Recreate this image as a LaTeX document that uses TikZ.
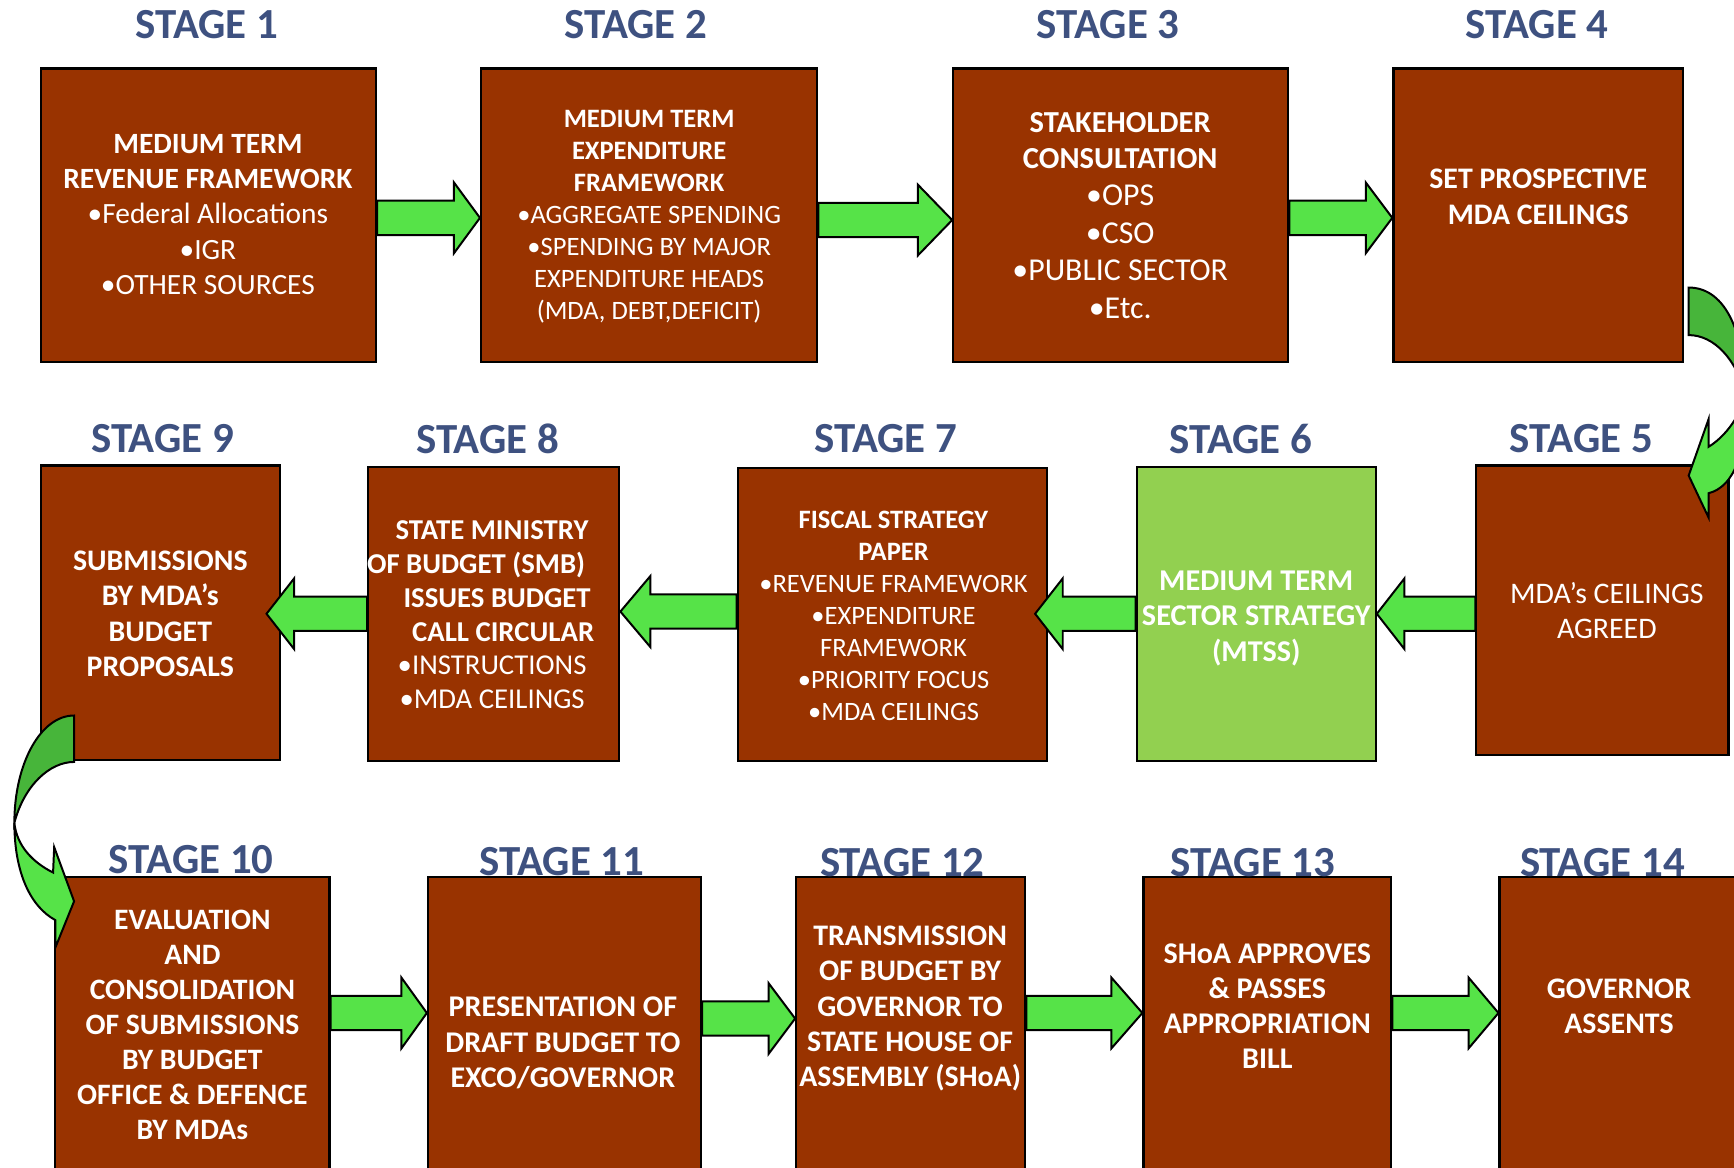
\documentclass[tikz,border=0pt]{standalone}
\usepackage{fontspec}
\setmainfont{Carlito}
\usetikzlibrary{fit,calc}
\definecolor{boxbrown}{HTML}{993300}
\definecolor{boxgreen}{HTML}{92D050}
\definecolor{arrgreen}{HTML}{56E348}
\definecolor{arrdark}{HTML}{47B53A}
\definecolor{stagecol}{HTML}{3E5180}
% [#1 head length in pt] #2 direction (1 = right, -1 = left), #3 start point, #4 tip point
\newcommand\harrow[4][12.5]{%
  \draw[blockarrow] let \p1=#3, \p2=#4, \n1={#2*#1} in
    ({\x1},{\y1+7.75pt}) -- ({\x2-\n1*1pt},{\y1+7.75pt}) -- ({\x2-\n1*1pt},{\y1+16pt})
    -- ({\x2},{\y1}) -- ({\x2-\n1*1pt},{\y1-16pt}) -- ({\x2-\n1*1pt},{\y1-7.75pt})
    -- ({\x1},{\y1-7.75pt}) -- cycle;}
\begin{document}
\begin{tikzpicture}[x=0.5pt,y=-0.5pt,
  box/.style={draw=black, line width=1pt, fill=boxbrown, inner sep=0pt},
  gbox/.style={box, fill=boxgreen},
  lbl/.style={text=stagecol, font=\fontsize{19.4}{24}\selectfont\bfseries, inner sep=0pt},
  txt/.style={text=white, align=center, inner sep=0pt, font=\fontsize{13.5}{16}\selectfont},
  txtb/.style={txt, font=\fontsize{13.5}{16}\selectfont\bfseries},
  txts/.style={text=white, align=center, inner sep=0pt, font=\fontsize{12}{14.5}\selectfont},
  blockarrow/.style={draw=black, line width=0.9pt, fill=arrgreen, line join=miter},
  curvedark/.style={draw=black, line width=0.9pt, fill=arrdark},
  curvelight/.style={draw=black, line width=0.9pt, fill=arrgreen},
]
\useasboundingbox (0,0) rectangle (1568,1056);
\begin{scope}
\clip (0,0) rectangle (1568,1056);
% levels of the arrows
\coordinate (ya) at (0,197);
\coordinate (yb) at (0,199);
\coordinate (yc) at (0,555);
\coordinate (yd) at (0,553);
\coordinate (ye) at (0,916);
\coordinate (yf) at (0,921);
% boxes
\node[box, fit={(37,62) (340,327)}] (b1) {};
\node[box, fit={(435,62) (739,327)}] (b2) {};
\node[box, fit={(862,62) (1165,327)}] (b3) {};
\node[box, fit={(1260,62) (1522,327)}] (b4) {};
\node[box, fit={(1335,421) (1563,683)}] (b5) {};
\node[gbox, fit={(1028,422) (1244,688)}] (b6) {};
\node[box, fit={(667,423) (947,688)}] (b7) {};
\node[box, fit={(333,422) (560,688)}] (b8) {};
\node[box, fit={(37,421) (253,687)}] (b9) {};
\node[box, fit={(50,793) (298,1080)}] (b10) {};
\node[box, fit={(387,793) (634,1080)}] (b11) {};
\node[box, fit={(720,793) (927,1080)}] (b12) {};
\node[box, fit={(1034,793) (1258,1080)}] (b13) {};
\node[box, fit={(1356,793) (1590,1080)}] (b14) {};
\coordinate (b7tip) at ($(b7.east |- yc)+(-12,0)$);
\coordinate (b9tip) at ($(b9.east |- yc)+(-13,0)$);
% straight arrows
\harrow[11.75]{1}{(b1.east |- ya)}{(b2.west |- ya)}
\harrow[15.5]{1}{(b2.east |- yb)}{(b3.west |- yb)}
\harrow[12]{1}{(b3.east |- ya)}{(b4.west |- ya)}
\harrow{-1}{(b5.west |- yc)}{(b6.east |- yc)}
\harrow{-1}{(b6.west |- yc)}{(b7tip)}
\harrow[13.5]{-1}{(b7.west |- yd)}{(b8.east |- yd)}
\harrow{-1}{(b8.west |- yc)}{(b9tip)}
\harrow[11.5]{1}{(b10.east |- ye)}{(b11.west |- ye)}
\harrow[12]{1}{(b11.east |- yf)}{(b12.west |- yf)}
\harrow[14]{1}{(b12.east |- ye)}{(b13.west |- ye)}
\harrow[13.5]{1}{(b13.east |- ye)}{(b14.west |- ye)}
% curved arrow stage 4 -> stage 5
\draw[curvedark] (1527,260) .. controls (1562,260) and (1578,305) .. (1578,356)
  .. controls (1570,325) and (1550,303) .. (1527,303) -- cycle;
\draw[curvelight] (1578,356) .. controls (1580,410) and (1568,440) .. (1545,446)
  -- (1545,468) -- (1527,430) -- (1545,379) -- (1545,404)
  .. controls (1560,395) and (1575,375) .. (1578,356) -- cycle;
% curved arrow stage 9 -> stage 10
\draw[curvedark] (67,647) .. controls (37,647) and (13,690) .. (13,744)
  .. controls (22,710) and (45,689) .. (67,689) -- cycle;
\draw[curvelight] (13,744) .. controls (13,790) and (28,820) .. (50,832)
  -- (50,857) -- (67,815) -- (49,766) -- (48,789)
  .. controls (30,780) and (15,765) .. (13,744) -- cycle;
% box texts
\node[txt, font=\fontsize{13.3}{16}\selectfont] (t1) at (188,194) {\textbf{MEDIUM TERM}\\\textbf{REVENUE FRAMEWORK}\\•Federal Allocations\\•IGR\\•OTHER SOURCES};
\node[txts] (t2) at (587,196) {\textbf{MEDIUM TERM}\\\textbf{EXPENDITURE}\\\textbf{FRAMEWORK}\\•AGGREGATE SPENDING\\•SPENDING BY MAJOR\\EXPENDITURE HEADS\\(MDA, DEBT,DEFICIT)};
\node[txt, font=\fontsize{13.8}{16}\selectfont] (t3) at (1013,195) {\textbf{STAKEHOLDER}\\\textbf{CONSULTATION}\\[1pt]{\fontsize{14.4}{17}\selectfont •OPS}\\[1pt]{\fontsize{14.4}{17}\selectfont •CSO}\\[1pt]{\fontsize{14.4}{17}\selectfont •PUBLIC SECTOR}\\[1pt]{\fontsize{14.4}{17}\selectfont •Etc.}};
\node[txtb] (t4) at (1391,178) {SET PROSPECTIVE\\MDA CEILINGS};
\node[txt, font=\fontsize{13.5}{15.5}\selectfont] (t5) at (1453,552) {MDA’s CEILINGS\\AGREED};
\node[txtb, font=\fontsize{13.65}{16}\selectfont\bfseries] (t6) at (1136,559) {MEDIUM TERM\\SECTOR STRATEGY\\(MTSS)};
\node[txts] (t7) at (808,557) {\textbf{FISCAL STRATEGY}\\\textbf{PAPER}\\•REVENUE FRAMEWORK\\•EXPENDITURE\\FRAMEWORK\\•PRIORITY FOCUS\\•MDA CEILINGS};
\node[txt, font=\fontsize{13}{15.25}\selectfont] (t8) at (445,556) {\textbf{STATE MINISTRY}\\\textbf{OF BUDGET (SMB)}\hspace*{14.5pt}\mbox{}\\\hspace*{4.5pt}\textbf{ISSUES BUDGET}\\\hspace*{10pt}\textbf{CALL CIRCULAR}\\•INSTRUCTIONS\\•MDA CEILINGS};
\node[txtb] (t9) at (145,555) {SUBMISSIONS\\BY MDA’s\\BUDGET\\PROPOSALS};
\node[txtb, font=\fontsize{13.4}{15.85}\selectfont\bfseries] (t10) at (174,927) {EVALUATION\\AND\\CONSOLIDATION\\OF SUBMISSIONS\\BY BUDGET\\OFFICE \& DEFENCE\\BY MDAs};
\node[txtb, font=\fontsize{13.6}{16}\selectfont\bfseries] (t11) at (509,943) {PRESENTATION OF\\DRAFT BUDGET TO\\EXCO/GOVERNOR};
\node[txtb] (t12) at (823,912) {TRANSMISSION\\OF BUDGET BY\\GOVERNOR TO\\STATE HOUSE OF\\ASSEMBLY (SHoA)};
\node[txtb, font=\fontsize{13.6}{15.85}\selectfont\bfseries] (t13) at (1146,910) {SHoA APPROVES\\\& PASSES\\APPROPRIATION\\BILL};
\node[txtb] (t14) at (1464,910) {GOVERNOR\\ASSENTS};
% stage labels
\node[lbl] (s1) at (187,22) {STAGE 1};
\node[lbl] (s2) at (575,22) {STAGE 2};
\node[lbl] (s3) at (1002,22) {STAGE 3};
\node[lbl] (s4) at (1390,22) {STAGE 4};
\node[lbl] (s5) at (1430,397) {STAGE 5};
\node[lbl] (s6) at (1122,397) {STAGE 6};
\node[lbl] (s7) at (801,397) {STAGE 7};
\node[lbl] (s8) at (441,397) {STAGE 8};
\node[lbl] (s9) at (147,397) {STAGE 9};
\node[lbl] (s10) at (173,777) {STAGE 10};
\node[lbl] (s11) at (508,779) {STAGE 11};
\node[lbl] (s12) at (816,780) {STAGE 12};
\node[lbl] (s13) at (1133,780) {STAGE 13};
\node[lbl] (s14) at (1449,780) {STAGE 14};
\end{scope}
\end{tikzpicture}
\end{document}
